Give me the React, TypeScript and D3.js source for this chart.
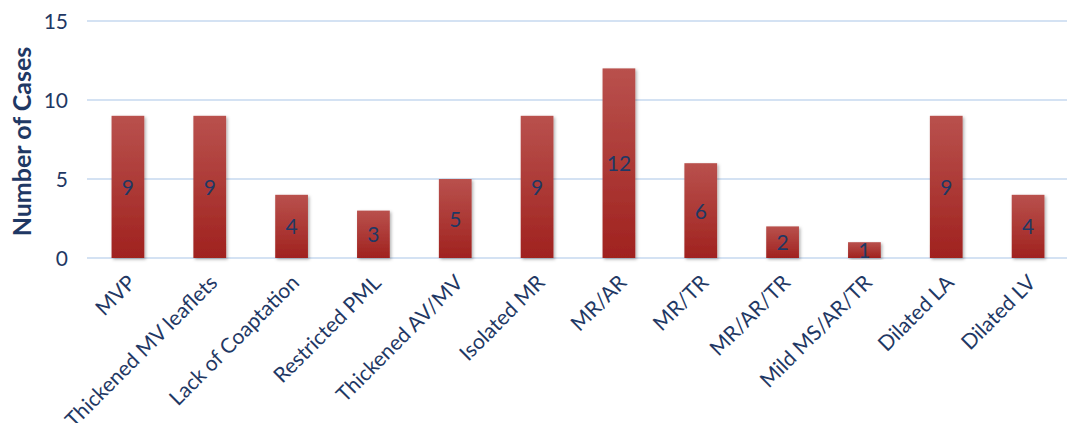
import React from "react";
import * as d3 from "d3";

const categories = [
  "MVP",
  "Thickened MV leaflets",
  "Lack of Coaptation",
  "Restricted PML",
  "Thickened AV/MV",
  "Isolated MR",
  "MR/AR",
  "MR/TR",
  "MR/AR/TR",
  "Mild MS/AR/TR",
  "Dilated LA",
  "Dilated LV",
];
const values = [9, 9, 4, 3, 5, 9, 12, 6, 2, 1, 9, 4];
const yTicks = [0, 5, 10, 15];
const yTitle = "Number of Cases";

const W = 1067;
const H = 423;
const FONT = "Lato, 'Open Sans', sans-serif";
const NAVY = "#1F3864";

export default function App() {
  const left = 87;
  const right = 1069;
  const top = 21;
  const bottom = 258;
  const x = d3.scaleBand<string>().domain(categories).range([left, right]).paddingInner(0.6).paddingOuter(0.3);
  const y = d3.scaleLinear().domain([0, 15]).range([bottom, top]);
  const bw = x.bandwidth();

  return (
    <svg width={W} height={H} style={{ position: "absolute", left: 0, top: 0, background: "#fff" }}>
      <defs>
        <linearGradient id="barGrad" x1="0" y1="0" x2="0" y2="1">
          <stop offset="0%" stopColor="#B9514D" />
          <stop offset="100%" stopColor="#A0221F" />
        </linearGradient>
        <filter id="shadow" x="-20%" y="-5%" width="140%" height="115%">
          <feDropShadow dx="1.5" dy="1.5" stdDeviation="1.5" floodColor="#000" floodOpacity="0.3" />
        </filter>
      </defs>
      {yTicks.map((t) => (
        <g key={t}>
          <line x1={left} x2={W} y1={y(t)} y2={y(t)} stroke="#C6D9EF" strokeWidth={1.5} />
          <text x={68} y={y(t) + 7.5} textAnchor="end" fontFamily={FONT} fontSize={21} fill={NAVY}>
            {t}
          </text>
        </g>
      ))}
      <text
        transform={`translate(31, ${(top + bottom) / 2 + 2}) rotate(-90)`}
        textAnchor="middle"
        fontFamily={FONT}
        fontSize={25}
        fontWeight="bold"
        fill={NAVY}
      >
        {yTitle}
      </text>
      {categories.map((c, i) => {
        const v = values[i];
        const x0 = x(c)!;
        const cx = x0 + bw / 2;
        return (
          <g key={c}>
            <rect x={x0} y={y(v)} width={bw} height={y(0) - y(v)} fill="url(#barGrad)" filter="url(#shadow)" />
            <text x={cx} y={y(v / 2) + 8} textAnchor="middle" fontFamily={FONT} fontSize={21} fill={NAVY}>
              {v}
            </text>
            <text
              transform={`translate(${cx + 9}, ${bottom + 26}) rotate(-45)`}
              textAnchor="end"
              fontFamily={FONT}
              fontSize={21}
              fill={NAVY}
            >
              {c}
            </text>
          </g>
        );
      })}
    </svg>
  );
}
